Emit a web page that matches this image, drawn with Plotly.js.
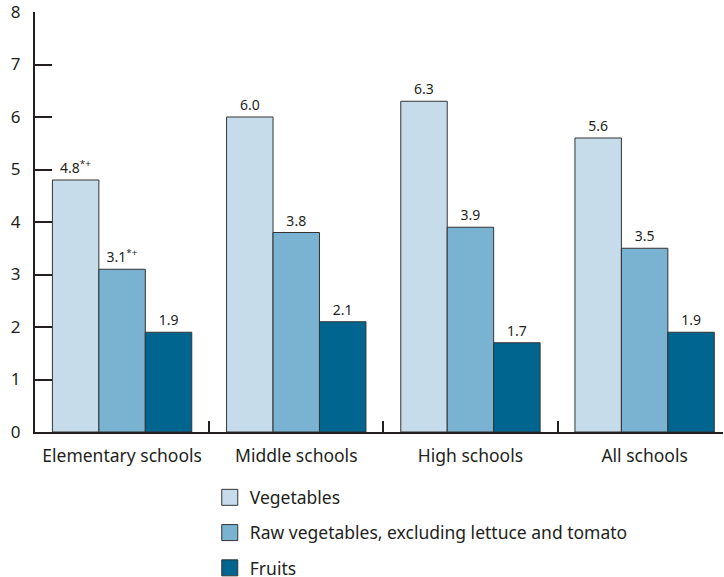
<!DOCTYPE html>
<html>
<head>
<meta charset="utf-8">
<script src="https://cdn.plot.ly/plotly-3.0.1.min.js"></script>
<style>
  html, body { margin: 0; padding: 0; background: #fff; }
  #chart { width: 724px; height: 577px; }
</style>
</head>
<body>
<div id="chart"></div>
<script>
// School groups along the x axis
const categories = ["Elementary schools", "Middle schools", "High schools", "All schools"];

// Mean number of items offered, per series
const vegetables = [4.8, 6.0, 6.3, 5.6];
const rawVegetables = [3.1, 3.8, 3.9, 3.5];
const fruits = [1.9, 2.1, 1.7, 1.9];

// Significance markers appended to the value labels
const vegetableMarks = ["*+", "", "", ""];
const rawVegetableMarks = ["*+", "", "", ""];
const fruitMarks = ["", "", "", ""];

const seriesNames = ["Vegetables", "Raw vegetables, excluding lettuce and tomato", "Fruits"];
const seriesColors = ["#c6dcea", "#7ab2d1", "#00668f"];

const yTicks = [0, 1, 2, 3, 4, 5, 6, 7, 8];

const FONT = "Noto Sans, Open Sans, sans-serif";
const INK = "#231f20";

function labels(values, marks) {
  return values.map((v, i) => v.toFixed(1) + (marks[i] ? "<sup>" + marks[i] + "</sup>" : ""));
}

const seriesValues = [vegetables, rawVegetables, fruits];
const seriesMarks = [vegetableMarks, rawVegetableMarks, fruitMarks];

const traces = [];
seriesValues.forEach((vals, k) => {
  traces.push({
    type: "bar",
    x: categories,
    y: vals,
    name: seriesNames[k],
    text: labels(vals, seriesMarks[k]),
    textposition: "outside",
    cliponaxis: false,
    textfont: { family: FONT, size: 14, color: INK },
    marker: { color: seriesColors[k], line: { color: "#333333", width: 1 } },
    showlegend: false,
    hoverinfo: "x+y"
  });
});

// Legend entries with larger square swatches
seriesNames.forEach((name, k) => {
  traces.push({
    type: "scatter",
    mode: "markers",
    x: [null],
    y: [null],
    name: name,
    legendgroup: "g" + k,
    marker: { symbol: "square", size: 18, color: seriesColors[k], line: { color: "#333333", width: 1 } },
    hoverinfo: "skip"
  });
});

const layout = {
  width: 724,
  height: 577,
  margin: { l: 35, r: 1, t: 12, b: 145, autoexpand: false },
  paper_bgcolor: "#ffffff",
  plot_bgcolor: "#ffffff",
  font: { family: FONT, color: INK, size: 17 },
  barmode: "group",
  bargap: 0.2,
  bargroupgap: 0,
  xaxis: {
    type: "category",
    range: [-0.5, 3.45],
    showline: true,
    linecolor: INK,
    linewidth: 2,
    ticks: "inside",
    tickson: "boundaries",
    ticklen: 11,
    tickwidth: 2,
    tickcolor: INK,
    tickfont: { family: FONT, size: 17.5, color: INK },
    ticklabelstandoff: 7,
    automargin: false,
    showgrid: false,
    zeroline: false,
    fixedrange: true
  },
  yaxis: {
    range: [0, 8],
    tickvals: yTicks,
    ticktext: yTicks.map(String),
    showline: true,
    linecolor: INK,
    linewidth: 2,
    ticks: "inside",
    ticklen: 17,
    tickwidth: 2,
    tickcolor: INK,
    tickfont: { family: FONT, size: 17, color: INK },
    ticklabelstandoff: 9,
    ticklabeloverflow: "allow",
    automargin: false,
    showgrid: false,
    zeroline: false,
    fixedrange: true
  },
  showlegend: true,
  legend: {
    orientation: "v",
    x: 0.254,
    xanchor: "left",
    y: -0.113,
    yanchor: "top",
    tracegroupgap: 9.5,
    font: { family: FONT, size: 17.5, color: INK },
    bgcolor: "rgba(0,0,0,0)",
    borderwidth: 0
  }
};

Plotly.newPlot("chart", traces, layout, { displayModeBar: false, staticPlot: true });
</script>
</body>
</html>
